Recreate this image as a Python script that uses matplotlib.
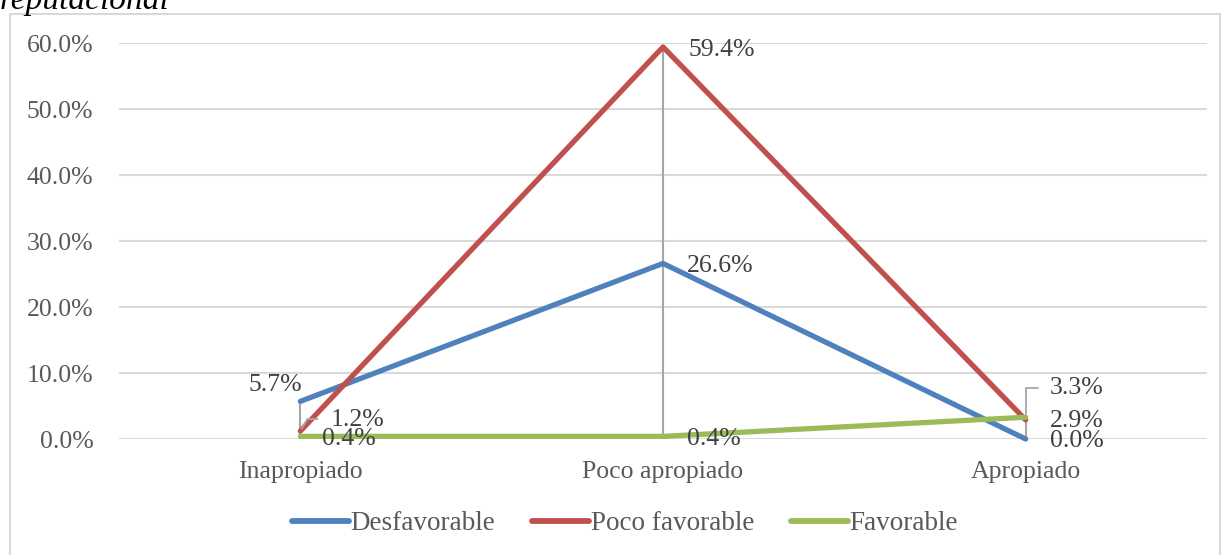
import matplotlib.pyplot as plt
from matplotlib.patches import Rectangle
from matplotlib.ticker import FuncFormatter

plt.rcParams['font.family'] = ['Liberation Serif', 'DejaVu Serif']

categories = ['Inapropiado', 'Poco apropiado', 'Apropiado']
desfavorable = [5.7, 26.6, 0.0]
poco_favorable = [1.2, 59.4, 2.9]
favorable = [0.4, 0.4, 3.3]

series = [
    ('Desfavorable', desfavorable, '#4F81BD'),
    ('Poco favorable', poco_favorable, '#C0504D'),
    ('Favorable', favorable, '#9BBB59'),
]

# label offsets in pixels (dx, dy, ha)
offsets = {
    'Desfavorable': [(2, 16, 'right'), (24, -3, 'left'), (24, -2, 'left')],
    'Poco favorable': [(30, 11, 'left'), (25, -3, 'left'), (24, -1, 'left')],
    'Favorable': [(22, -3, 'left'), (24, -3, 'left'), (24, 29, 'left')],
}

FS = 18.5

fig = plt.figure(figsize=(12.21, 5.55), dpi=100)
ax = fig.add_axes([119 / 1221, 1 - 439 / 555, 1088 / 1221, 396 / 555])

x = list(range(len(categories)))

# drop lines from the highest value at each category
tops = [max(v) for v in zip(desfavorable, poco_favorable, favorable)]
ax.vlines(x, 0, tops, color='#a6a6a6', lw=1.5, zorder=2)

for name, vals, color in series:
    ax.plot(x, vals, color=color, lw=3.8, solid_capstyle='round', label=name,
            zorder=3, clip_on=False)

for name, vals, color in series:
    for xi, v, (dx, dy, ha) in zip(x, vals, offsets[name]):
        ax.annotate(f'{v:.1f}%', xy=(xi, v), xytext=(dx, dy),
                    textcoords='offset pixels', ha=ha, va='center',
                    fontsize=FS, color='#404040', zorder=5)

# leader lines for the labels sitting away from their points
ax.annotate('', xy=(0, 1.2), xytext=(20, 12), textcoords='offset pixels',
            arrowprops=dict(arrowstyle='-', color='#a6a6a6', lw=1.3,
                            connectionstyle='angle,angleA=0,angleB=60,rad=0'))
ax.annotate('', xy=(2, 3.3), xytext=(15, 29), textcoords='offset pixels',
            arrowprops=dict(arrowstyle='-', color='#a6a6a6', lw=1.3,
                            connectionstyle='angle,angleA=0,angleB=90,rad=0'))

ax.set_xlim(-0.5, 2.5)
ax.set_ylim(0, 60)
ax.set_yticks(range(0, 61, 10))
ax.yaxis.set_major_formatter(FuncFormatter(lambda v, p: f'{v:.1f}%'))
ax.set_xticks(x)
ax.set_xticklabels(categories)
ax.tick_params(axis='both', length=0, labelsize=FS, labelcolor='#595959')
ax.tick_params(axis='y', pad=18.5)
ax.tick_params(axis='x', pad=16)
ax.grid(axis='y', color='#d9d9d9', lw=1.5)
ax.set_axisbelow(True)
for s in ax.spines.values():
    s.set_visible(False)

leg = fig.legend(loc='center', bbox_to_anchor=(625 / 1221, 1 - 524 / 555), ncol=3,
                 frameon=False, fontsize=19.5, handlelength=2.1, handletextpad=0.05,
                 columnspacing=1.37, labelcolor='#595959')
for h in leg.legend_handles:
    h.set_linewidth(4.2)

# chart frame and the caption line cut off above it
fig.patches.append(Rectangle((10 / 1221, -0.05), 1210 / 1221, 1 - 14 / 555 + 0.05,
                             transform=fig.transFigure, fill=False,
                             edgecolor='#d9d9d9', lw=1.5))
fig.text(0.0, 1 - 1 / 555, 'reputacional', fontsize=24, style='italic',
         ha='left', va='center', color='black')

fig.savefig('out.png', dpi=100)
